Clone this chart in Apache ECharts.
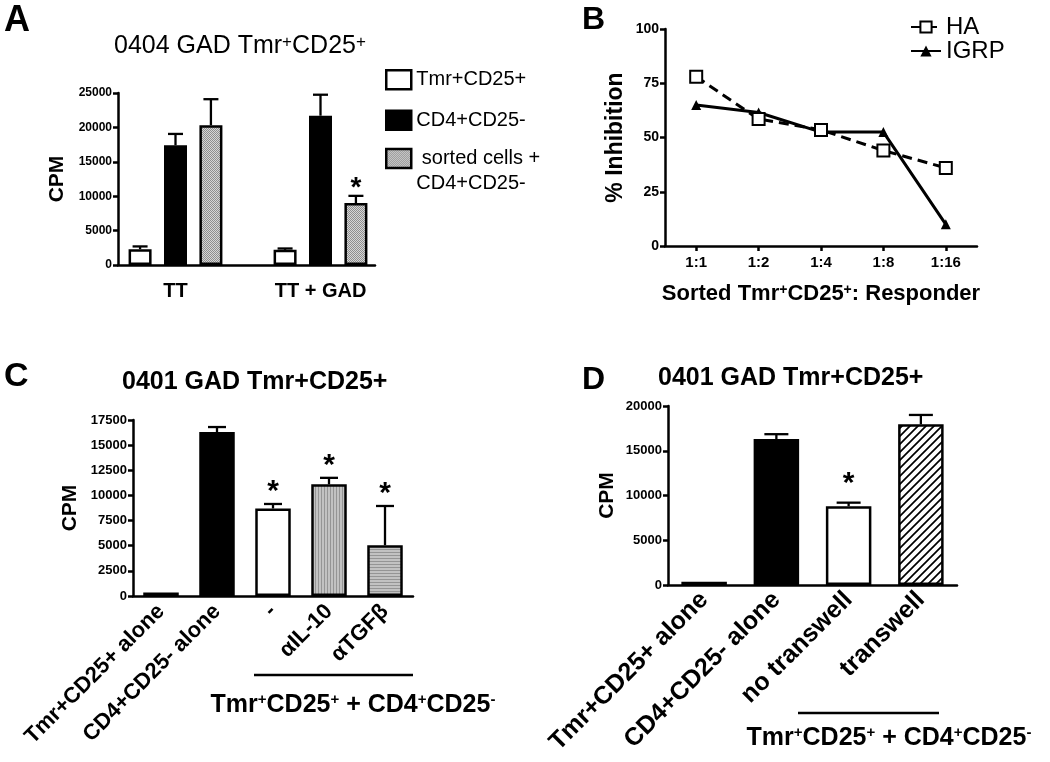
<!DOCTYPE html>
<html><head><meta charset="utf-8">
<script src="https://cdn.jsdelivr.net/npm/echarts@6/dist/echarts.min.js"></script>
<style>html,body{margin:0;padding:0;background:#fff}#c{width:1050px;height:762px}</style>
</head><body><div id="c"></div>
<script>
// ---------- DATA ----------
// Panel A
const aCats = ['TT', 'TT + GAD'];
const aNames = ['Tmr+CD25+', 'CD4+CD25-', ' sorted cells +\nCD4+CD25-'];
const aTmr = [2300, 2200];
const aCD4 = [17400, 21700];
const aSorted = [20300, 9000];
const aTmrErr = [400, 200];
const aCD4Err = [1650, 3050];
const aSortedErr = [3800, 1050];
const aSortedSig = [false, true];
const aYTicks = [0, 5000, 10000, 15000, 20000, 25000];
// Panel B
const bCats = ['1:1', '1:2', '1:4', '1:8', '1:16'];
const bHA = [78, 58.5, 53.5, 44, 36];
const bIGRP = [65, 61.5, 52.5, 52.5, 10];
const bYTicks = [0, 25, 50, 75, 100];
// Panel C
const cCats = ['Tmr+CD25+ alone', 'CD4+CD25- alone', '-', 'αIL-10', 'αTGFβ'];
const cMeans = [350, 16300, 8700, 11100, 5050];
const cErr = [0, 500, 450, 650, 3900];
const cSig = [false, false, true, true, true];
const cYTicks = [0, 2500, 5000, 7500, 10000, 12500, 15000, 17500];
// Panel D
const dCats = ['Tmr+CD25+ alone', 'CD4+CD25- alone', 'no transwell', 'transwell'];
const dMeans = [350, 16300, 8800, 17950];
const dErr = [0, 550, 400, 1050];
const dSig = [false, false, true, false];
const dYTicks = [0, 5000, 10000, 15000, 20000];

// ---------- STYLE ----------
const FONT = 'Liberation Sans, Arial, sans-serif';
function pat(w, h, draw) {
  const c = document.createElement('canvas'); c.width = w; c.height = h;
  draw(c.getContext('2d')); return { image: c, repeat: 'repeat' };
}
const stipple = pat(2, 2, g => { g.fillStyle = '#d6d6d6'; g.fillRect(0,0,2,2); g.fillStyle = '#8e8e8e'; g.fillRect(0,0,1,1); g.fillRect(1,1,1,1); });
const darkDot = pat(2, 2, g => { g.fillStyle = '#888'; g.fillRect(0,0,2,2); g.fillStyle = '#333'; g.fillRect(0,0,1,1); g.fillRect(1,1,1,1); });
const vStripe = pat(3, 1, g => { g.fillStyle = '#c2c2c2'; g.fillRect(0,0,3,1); g.fillStyle = '#959595'; g.fillRect(0,0,1,1); });
const hStripe = pat(1, 3, g => { g.fillStyle = '#c2c2c2'; g.fillRect(0,0,1,3); g.fillStyle = '#959595'; g.fillRect(0,0,1,1); });
const hatch = pat(8, 8, g => { g.fillStyle = '#fff'; g.fillRect(0,0,8,8); g.strokeStyle = '#000'; g.lineWidth = 1.7;
  g.beginPath(); g.moveTo(-1,9); g.lineTo(9,-1); g.moveTo(-3,3); g.lineTo(3,-3); g.moveTo(5,11); g.lineTo(11,5); g.stroke(); });
const aFills = ['#fff', '#000', stipple];
const cFills = [darkDot, '#000', '#fff', vStripe, hStripe];
const dFills = [darkDot, '#000', '#fff', hatch];

const AXW = 2.5;
function yAxisCfg(gi, ticks, name, show, labelSize, nameGap) {
  return {
    gridIndex: gi, type: 'value', show: show !== false,
    min: ticks[0], max: ticks[ticks.length - 1], interval: ticks[1] - ticks[0],
    name: name || '', nameLocation: 'middle', nameGap: nameGap || 50,
    nameTextStyle: { fontFamily: FONT, fontWeight: 'bold', fontSize: 21, color: '#000' },
    axisLine: { show: true, lineStyle: { color: '#000', width: AXW } },
    axisTick: { show: true, length: 5, lineStyle: { color: '#000', width: AXW } },
    axisLabel: { fontFamily: FONT, fontWeight: 'bold', fontSize: labelSize || 13, color: '#000', margin: 6,
      formatter: v => String(v) },
    splitLine: { show: false }
  };
}
function catAxis(gi, cats, opts) {
  return Object.assign({
    gridIndex: gi, type: 'category', data: cats,
    axisLine: { show: true, lineStyle: { color: '#000', width: AXW } },
    axisTick: { show: false },
    axisLabel: { show: true, interval: 0, fontFamily: FONT, fontWeight: 'bold', color: '#000' },
    splitLine: { show: false }
  }, opts);
}

function errRender(spacing, nSeries, capHalf, starSize, starGap) {
  return function (params, api) {
    const c = api.value(0), s = api.value(1), m = api.value(2), t = api.value(3), sig = api.value(4);
    const p0 = api.coord([c, m]), p1 = api.coord([c, t]);
    const x = p0[0] + (s - (nSeries - 1) / 2) * spacing;
    const ch = [];
    if (t > m) {
      ch.push({ type: 'line', shape: { x1: x, y1: p0[1], x2: x, y2: p1[1] }, style: { stroke: '#000', lineWidth: 2.3 } });
      ch.push({ type: 'line', shape: { x1: x - capHalf, y1: p1[1], x2: x + capHalf, y2: p1[1] }, style: { stroke: '#000', lineWidth: 2.3 } });
    }
    if (sig) ch.push({ type: 'text', x: x, y: p1[1] - starGap, style: { text: '*', align: 'center', verticalAlign: 'middle',
      fontFamily: FONT, fontWeight: 'bold', fontSize: starSize, fill: '#000' } });
    return { type: 'group', children: ch };
  };
}

const aErrData = [];
[[aTmr, aTmrErr, [false, false]], [aCD4, aCD4Err, [false, false]], [aSorted, aSortedErr, aSortedSig]].forEach((d, s) => {
  d[0].forEach((v, c) => aErrData.push([c, s, v, v + d[1][c], d[2][c] ? 1 : 0]));
});
const cErrData = cMeans.map((v, i) => [i, 0, v, v + cErr[i], cSig[i] ? 1 : 0]);
const dErrData = dMeans.map((v, i) => [i, 0, v, v + dErr[i], dSig[i] ? 1 : 0]);

const supRich = (size) => ({ sup: { fontSize: size, fontFamily: FONT, fontWeight: 'bold', verticalAlign: 'top', color: '#000' } });
const supRichN = (size) => ({ sup: { fontSize: size, fontFamily: FONT, fontWeight: 'normal', verticalAlign: 'top', color: '#000' } });

const A_BW = 23, A_GAP = 0.54;
const barBorder = { borderColor: '#000', borderWidth: 2.5 };

const option = {
  backgroundColor: '#fff',
  animation: false,
  title: [
    { text: 'A', left: 4, top: 3, padding: 0, textStyle: { fontFamily: FONT, fontWeight: 'bold', fontSize: 36, color: '#000' } },
    { text: 'B', left: 582, top: 4, padding: 0, textStyle: { fontFamily: FONT, fontWeight: 'bold', fontSize: 32, color: '#000' } },
    { text: 'C', left: 4, top: 360, padding: 0, textStyle: { fontFamily: FONT, fontWeight: 'bold', fontSize: 34, color: '#000' } },
    { text: 'D', left: 582, top: 364, padding: 0, textStyle: { fontFamily: FONT, fontWeight: 'bold', fontSize: 32, color: '#000' } },
    { text: '0404 GAD Tmr{sup|+}CD25{sup|+}', left: 114, top: 34, padding: 0,
      textStyle: { fontFamily: FONT, fontWeight: 'normal', fontSize: 25, color: '#000', rich: supRichN(17) } },
    { text: '0401 GAD Tmr+CD25+', left: 122, top: 370, padding: 0,
      textStyle: { fontFamily: FONT, fontWeight: 'bold', fontSize: 25, color: '#000' } },
    { text: '0401 GAD Tmr+CD25+', left: 658, top: 366, padding: 0,
      textStyle: { fontFamily: FONT, fontWeight: 'bold', fontSize: 25, color: '#000' } }
  ],
  legend: [
    { data: [aNames[0], aNames[1]], orient: 'vertical', left: 385, top: 69, padding: 0,
      itemWidth: 25, itemHeight: 19, itemGap: 19, icon: 'rect',
      itemStyle: { borderColor: '#000', borderWidth: 2.5 },
      textStyle: { fontFamily: FONT, fontSize: 20, color: '#000' } },
    { data: [aNames[2]], orient: 'vertical', left: 385, top: 121, padding: 0,
      itemWidth: 25, itemHeight: 19, icon: 'rect', formatter: n => '\n' + n,
      itemStyle: { borderColor: '#000', borderWidth: 2.5 },
      textStyle: { fontFamily: FONT, fontSize: 20, lineHeight: 25, color: '#000' } },
    { data: ['HA', 'IGRP'], orient: 'vertical', left: 910, top: 15, padding: 0,
      itemWidth: 30, itemHeight: 14, itemGap: 0,
      textStyle: { fontFamily: FONT, fontSize: 24, color: '#000' } }
  ],
  grid: [
    { left: 118, top: 93, width: 257, height: 172 },
    { left: 103, top: 93, width: 290, height: 172 },
    { left: 665, top: 29, width: 312, height: 217 },
    { left: 133, top: 420, width: 280, height: 176 },
    { left: 668, top: 406, width: 289, height: 179 }
  ],
  xAxis: [
    catAxis(0, aCats, { axisLabel: { show: false } }),
    catAxis(1, aCats, { axisLine: { show: false },
      axisLabel: { show: true, interval: 0, fontFamily: FONT, fontWeight: 'bold', fontSize: 20, color: '#000', margin: 16 } }),
    catAxis(2, bCats, {
      axisTick: { show: true, alignWithLabel: true, length: 5, lineStyle: { color: '#000', width: AXW } },
      axisLabel: { show: true, interval: 0, fontFamily: FONT, fontWeight: 'bold', fontSize: 15, color: '#000', margin: 9 },
      name: 'Sorted Tmr{sup|+}CD25{sup|+}: Responder', nameLocation: 'middle', nameGap: 37,
      nameTextStyle: { fontFamily: FONT, fontWeight: 'bold', fontSize: 22, color: '#000', rich: supRich(14) } }),
    catAxis(3, cCats, { axisLabel: { show: true, interval: 0, rotate: 45, fontFamily: FONT, fontWeight: 'bold', fontSize: 22, color: '#000', margin: 12 } }),
    catAxis(4, dCats, { axisLabel: { show: true, interval: 0, rotate: 45, fontFamily: FONT, fontWeight: 'bold', fontSize: 25, color: '#000', margin: 11 } })
  ],
  yAxis: [
    yAxisCfg(0, aYTicks, 'CPM', true, 12, 50),
    yAxisCfg(1, aYTicks, '', false),
    Object.assign(yAxisCfg(2, bYTicks, '% Inhibition', true, 14, 38), { nameTextStyle: { fontFamily: FONT, fontWeight: 'bold', fontSize: 23, color: '#000' } }),
    yAxisCfg(3, cYTicks, 'CPM', true, 13, 52),
    yAxisCfg(4, dYTicks, 'CPM', true, 13, 50)
  ],
  series: [
    { name: aNames[0], type: 'bar', xAxisIndex: 1, yAxisIndex: 1, data: aTmr, barWidth: A_BW, barGap: (A_GAP * 100) + '%', itemStyle: Object.assign({ color: aFills[0] }, barBorder) },
    { name: aNames[1], type: 'bar', xAxisIndex: 1, yAxisIndex: 1, data: aCD4, barWidth: A_BW, barGap: (A_GAP * 100) + '%', itemStyle: Object.assign({ color: aFills[1] }, barBorder) },
    { name: aNames[2], type: 'bar', xAxisIndex: 1, yAxisIndex: 1, data: aSorted, barWidth: A_BW, barGap: (A_GAP * 100) + '%', itemStyle: Object.assign({ color: aFills[2] }, barBorder) },
    { type: 'custom', xAxisIndex: 1, yAxisIndex: 1, data: aErrData, encode: { x: 0, y: 3 }, z: 5,
      renderItem: errRender(A_BW * (1 + A_GAP), 3, 7.5, 28, 8) },
    { name: 'IGRP', type: 'line', xAxisIndex: 2, yAxisIndex: 2, data: bIGRP, symbol: 'triangle', symbolSize: 10,
      itemStyle: { color: '#000' }, lineStyle: { color: '#000', width: 3 } },
    { name: 'HA', type: 'line', xAxisIndex: 2, yAxisIndex: 2, data: bHA, symbol: 'rect', symbolSize: 12,
      itemStyle: { color: '#fff', borderColor: '#000', borderWidth: 2 }, lineStyle: { color: '#000', width: 3, type: [10, 6] } },
    { type: 'bar', xAxisIndex: 3, yAxisIndex: 3, barWidth: 35.5,
      data: cMeans.map((v, i) => ({ value: v, itemStyle: Object.assign({ color: cFills[i] }, barBorder) })) },
    { type: 'custom', xAxisIndex: 3, yAxisIndex: 3, data: cErrData, encode: { x: 0, y: 3 }, z: 5,
      renderItem: errRender(0, 1, 9, 30, 12) },
    { type: 'bar', xAxisIndex: 4, yAxisIndex: 4, barWidth: 45.5,
      data: dMeans.map((v, i) => ({ value: v, itemStyle: Object.assign({ color: dFills[i] }, barBorder) })) },
    { type: 'custom', xAxisIndex: 4, yAxisIndex: 4, data: dErrData, encode: { x: 0, y: 3 }, z: 5,
      renderItem: errRender(0, 1, 12, 30, 19) }
  ],
  graphic: [
    { type: 'line', shape: { x1: 254, y1: 675, x2: 413, y2: 675 }, style: { stroke: '#000', lineWidth: 2.5 } },
    { type: 'text', x: 353, y: 705, style: { text: 'Tmr{sup|+}CD25{sup|+} + CD4{sup|+}CD25{sup|-}', align: 'center', verticalAlign: 'middle',
      fontFamily: FONT, fontWeight: 'bold', fontSize: 25, fill: '#000', rich: supRich(15) } },
    { type: 'line', shape: { x1: 798, y1: 713, x2: 939, y2: 713 }, style: { stroke: '#000', lineWidth: 2.5 } },
    { type: 'text', x: 889, y: 738, style: { text: 'Tmr{sup|+}CD25{sup|+} + CD4{sup|+}CD25{sup|-}', align: 'center', verticalAlign: 'middle',
      fontFamily: FONT, fontWeight: 'bold', fontSize: 25, fill: '#000', rich: supRich(15) } }
  ]
};
const chart = echarts.init(document.getElementById('c'), null, { renderer: 'canvas', width: 1050, height: 762 });
chart.setOption(option);
</script>
</body></html>
